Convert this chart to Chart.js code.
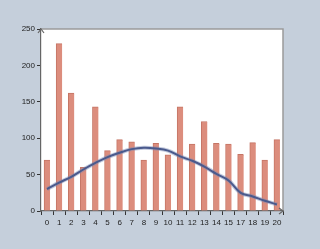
<!DOCTYPE html>
<html><head><meta charset="utf-8">
<script src="https://cdn.jsdelivr.net/npm/chart.js@4"></script>
<style>html,body{margin:0;padding:0;background:#c5cfdb;}#w{width:320px;height:249px;}</style>
</head><body><div id="w"><canvas id="c"></canvas></div>
<script>
const categories = ['0','1','2','3','4','5','6','7','8','9','10','11','12','13','14','15','17','18','19','20'];
const barValues = [70,230,162,60,143,83,98,95,70,93,77,143,92,123,93,92,78,94,70,98];
const lineValues = [30,39,47,57,66,74,80,85,87,86,83,75,69,61,51,42,25,20,14,9];
const yTicks = [0,50,100,150,200,250];

const frame = {
  id:'frame',
  beforeDraw(chart){
    const {ctx, chartArea:a} = chart;
    ctx.save();
    ctx.fillStyle='#ffffff';
    ctx.fillRect(a.left,a.top,a.right-a.left,a.bottom-a.top);
    ctx.restore();
  },
  afterDraw(chart){
    const {ctx, chartArea:a} = chart;
    ctx.save();
    ctx.strokeStyle='#9a9a9a'; ctx.lineWidth=1.5;
    ctx.beginPath(); ctx.moveTo(a.left,a.top); ctx.lineTo(a.right,a.top); ctx.lineTo(a.right,a.bottom); ctx.stroke();
    ctx.strokeStyle='#666'; ctx.lineWidth=1.2;
    ctx.beginPath(); ctx.moveTo(a.left-3,a.top+4); ctx.lineTo(a.left,a.top); ctx.lineTo(a.left+3,a.top+4); ctx.stroke();
    ctx.beginPath(); ctx.moveTo(a.right-4,a.bottom-3); ctx.lineTo(a.right,a.bottom); ctx.lineTo(a.right-4,a.bottom+3); ctx.stroke();
    ctx.restore();
  }
};

new Chart(document.getElementById('c'), {
  data:{
    labels: categories,
    datasets:[
      {type:'line', data:lineValues, borderColor:'rgba(120,135,180,0.45)', borderWidth:4, tension:0.4, pointRadius:0, order:1},
      {type:'line', data:lineValues, borderColor:'#4a5a8d', borderWidth:2, tension:0.4, pointRadius:0, order:0},
      {type:'bar', data:barValues, backgroundColor:'#dc8d7d', borderColor:'#c57565', borderWidth:{left:1,right:0,top:1,bottom:0}, barThickness:6, order:2}
    ]
  },
  options:{
    responsive:true, maintainAspectRatio:false, animation:false,
    layout:{padding:{top:29,right:37,left:0,bottom:0}},
    plugins:{legend:{display:false}, tooltip:{enabled:false}},
    scales:{
      x:{
        offset:true,
        grid:{display:true, drawOnChartArea:false, drawTicks:true, tickLength:4, color:'#333', lineWidth:1},
        border:{display:true, color:'#666', width:1.2},
        ticks:{color:'#222', font:{family:'Liberation Sans', size:8}, padding:3, maxRotation:0, autoSkip:false},
        afterFit(s){ s.height = 38; }
      },
      y:{
        min:0, max:250,
        grid:{display:true, drawOnChartArea:false, drawTicks:true, tickLength:4, color:'#333', lineWidth:1},
        border:{display:true, color:'#666', width:1.2},
        ticks:{stepSize:50, color:'#222', font:{family:'Liberation Sans', size:8}, padding:2,
          callback:(v)=> yTicks.includes(v) ? String(v) : ''},
        afterFit(s){ s.width = 41; }
      }
    }
  },
  plugins:[frame]
});
</script></body></html>
